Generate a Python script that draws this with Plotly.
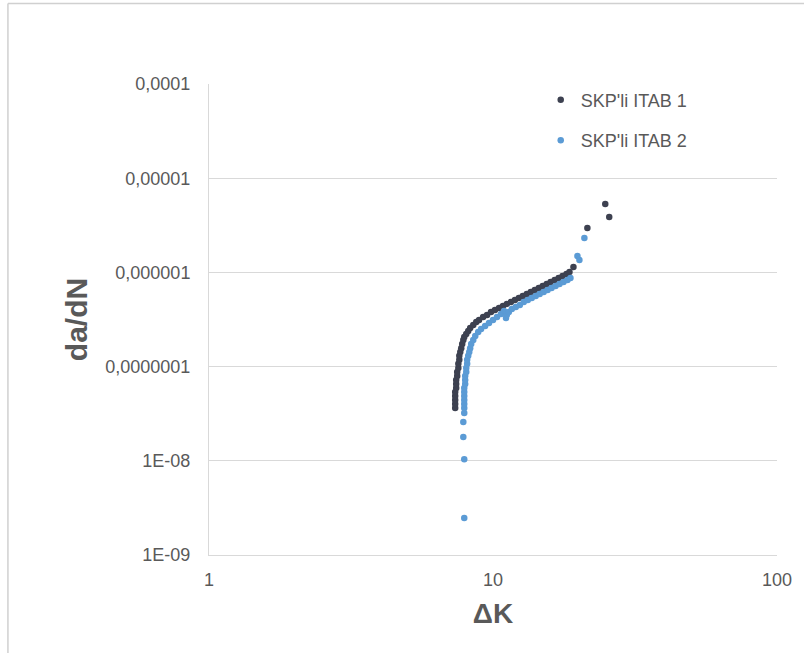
import plotly.graph_objects as go

# Crack growth rate data: stress intensity range ΔK vs. da/dN
itab1_dk = [7.36, 7.36, 7.36, 7.36, 7.36, 7.42, 7.42, 7.42, 7.48, 7.48,
            7.55, 7.55, 7.61, 7.61, 7.67, 7.73, 7.79, 7.86, 7.92, 8.05,
            8.18, 8.31, 8.52, 8.73, 8.93, 9.23, 9.53, 9.84, 10.16, 10.50,
            10.84, 11.19, 11.56, 11.94, 12.33, 12.73, 13.15, 13.58, 14.03, 14.49,
            14.96, 15.45, 15.95, 16.48, 17.02, 17.57, 18.14, 18.59, 19.20, 21.49,
            24.85, 25.66]
itab1_dadn = [3.64e-8, 4.01e-8, 4.42e-8, 4.88e-8, 5.37e-8, 5.93e-8, 6.53e-8, 7.21e-8, 7.94e-8, 8.77e-8,
              9.67e-8, 1.07e-7, 1.18e-7, 1.30e-7, 1.43e-7, 1.57e-7, 1.74e-7, 1.92e-7, 2.06e-7, 2.22e-7,
              2.39e-7, 2.57e-7, 2.77e-7, 2.97e-7, 3.12e-7, 3.36e-7, 3.53e-7, 3.80e-7, 3.99e-7, 4.19e-7,
              4.40e-7, 4.62e-7, 4.85e-7, 5.09e-7, 5.35e-7, 5.61e-7, 5.90e-7, 6.19e-7, 6.50e-7, 6.82e-7,
              7.17e-7, 7.53e-7, 7.91e-7, 8.30e-7, 8.72e-7, 9.16e-7, 9.62e-7, 1.01e-6, 1.14e-6, 2.96e-6,
              5.32e-6, 3.87e-6]

itab2_dk = [7.92, 7.92, 7.86, 7.86, 7.92, 7.92, 7.92, 7.92, 7.92, 7.92,
            7.92, 7.98, 7.98, 7.98, 8.05, 8.05, 8.11, 8.11, 8.18, 8.25,
            8.31, 8.38, 8.52, 8.66, 8.87, 9.08, 9.38, 9.68, 10.00, 10.33,
            10.67, 10.93, 11.11, 11.19, 11.37, 11.65, 12.03, 12.43, 12.83, 13.26,
            13.69, 14.14, 14.60, 15.08, 15.57, 16.08, 16.61, 17.15, 17.71, 18.29,
            18.74, 19.83, 20.15, 20.98]
itab2_dadn = [2.47e-9, 1.04e-8, 1.79e-8, 2.58e-8, 3.22e-8, 3.64e-8, 4.01e-8, 4.42e-8, 4.88e-8, 5.37e-8,
              5.93e-8, 6.53e-8, 7.21e-8, 7.94e-8, 8.77e-8, 9.67e-8, 1.07e-7, 1.18e-7, 1.30e-7, 1.43e-7,
              1.57e-7, 1.74e-7, 1.92e-7, 2.11e-7, 2.33e-7, 2.51e-7, 2.70e-7, 2.90e-7, 3.12e-7, 3.36e-7,
              3.62e-7, 3.89e-7, 3.28e-7, 3.53e-7, 3.80e-7, 4.09e-7, 4.29e-7, 4.51e-7, 4.85e-7, 5.09e-7,
              5.35e-7, 5.61e-7, 5.90e-7, 6.19e-7, 6.50e-7, 6.82e-7, 7.17e-7, 7.53e-7, 7.91e-7, 8.30e-7,
              8.72e-7, 1.49e-6, 1.35e-6, 2.32e-6]

series_names = ["SKP'li ITAB 1", "SKP'li ITAB 2"]

x_tickvals = [1, 10, 100]
x_ticktext = ["1", "10", "100"]
y_tickvals = [1e-9, 1e-8, 1e-7, 1e-6, 1e-5, 1e-4]
y_ticktext = ["1E-09", "1E-08", "0,0000001", "0,000001", "0,00001", "0,0001"]

TEXT = "#595959"
GRID = "#d9d9d9"
FONT = "Liberation Sans, Arial, sans-serif"

fig = go.Figure()
fig.add_trace(go.Scatter(
    x=itab1_dk, y=itab1_dadn, mode="markers", name=series_names[0],
    legendgroup="g1",
    marker=dict(color="#3d4150", size=6.5),
))
fig.add_trace(go.Scatter(
    x=itab2_dk, y=itab2_dadn, mode="markers", name=series_names[1],
    legendgroup="g2",
    marker=dict(color="#5b9bd5", size=6.5),
))

# chart frame (top and left edges)
fig.add_shape(type="line", xref="paper", yref="paper",
              x0=-0.354, x1=1.1, y0=1.171, y1=1.171,
              line=dict(color="#d0d0d0", width=1.5), layer="below")
fig.add_shape(type="line", xref="paper", yref="paper",
              x0=-0.354, x1=-0.354, y0=1.171, y1=-0.25,
              line=dict(color="#d0d0d0", width=1.5), layer="below")

fig.update_layout(
    width=804, height=653,
    margin=dict(l=209, r=23, t=84, b=98),
    paper_bgcolor="white", plot_bgcolor="white",
    font=dict(family=FONT, color=TEXT, size=18),
    showlegend=True,
    legend=dict(
        x=0.584, y=1.005, xanchor="left", yanchor="top",
        bgcolor="rgba(0,0,0,0)", font=dict(size=18, color=TEXT),
        traceorder="grouped", tracegroupgap=14,
    ),
    xaxis=dict(
        type="log", range=[0, 2],
        tickvals=x_tickvals, ticktext=x_ticktext,
        showgrid=False, zeroline=False,
        showline=True, linecolor=GRID, linewidth=1,
        ticks="", ticklabelstandoff=8,
        tickfont=dict(size=18, color=TEXT),
        title=dict(text="<b>ΔK</b>", font=dict(size=28, color=TEXT), standoff=14),
    ),
    yaxis=dict(
        type="log", range=[-9, -4],
        tickvals=y_tickvals, ticktext=y_ticktext,
        showgrid=True, gridcolor=GRID, gridwidth=1, zeroline=False,
        showline=True, linecolor=GRID, linewidth=1,
        ticks="", ticklabelstandoff=14,
        tickfont=dict(size=18, color=TEXT),
        title=dict(text="<b>da/dN</b>", font=dict(size=30, color=TEXT), standoff=8),
    ),
)

fig.write_html("out.html")
